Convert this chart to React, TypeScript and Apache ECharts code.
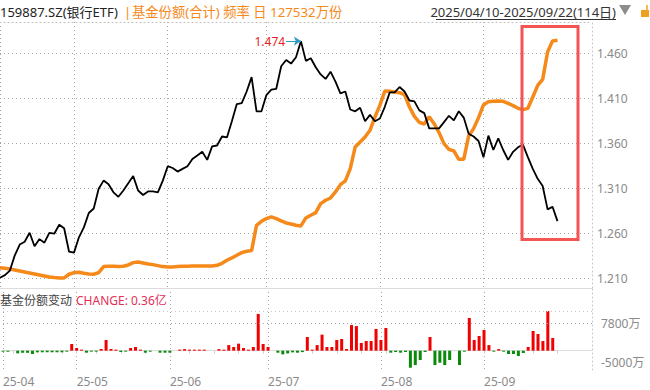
import React, { useEffect, useRef } from 'react';
import * as echarts from 'echarts';

// ---- data ----
const tradingDays: [string, number[]][] = [
  ['2025-04', [10, 11, 14, 15, 16, 17, 18, 21, 22, 23, 24, 25, 28, 29, 30]],
  ['2025-05', [6, 7, 8, 9, 12, 13, 14, 15, 16, 19, 20, 21, 22, 23, 26, 27, 28, 29, 30]],
  ['2025-06', [3, 4, 5, 6, 9, 10, 11, 12, 13, 16, 17, 18, 19, 20, 23, 24, 25, 26, 27, 30]],
  ['2025-07', [1, 2, 3, 4, 7, 8, 9, 10, 11, 14, 15, 16, 17, 18, 21, 22, 23, 24, 25, 28, 29, 30, 31]],
  ['2025-08', [1, 4, 5, 6, 7, 8, 11, 12, 13, 14, 15, 18, 19, 20, 21, 22, 25, 26, 27, 28, 29]],
  ['2025-09', [1, 2, 3, 4, 5, 8, 9, 10, 11, 12, 15, 16, 17, 18, 19, 22]],
];
const dates: string[] = tradingDays.flatMap(([m, ds]) => ds.map((d) => `${m}-${String(d).padStart(2, '0')}`));

// ETF price (right axis)
const price = [
  1.211, 1.214, 1.219, 1.236, 1.248, 1.251, 1.261, 1.246, 1.254, 1.250,
  1.261, 1.260, 1.270, 1.266, 1.240, 1.239, 1.256, 1.267, 1.283, 1.288,
  1.310, 1.319, 1.315, 1.306, 1.301, 1.308, 1.316, 1.324, 1.308, 1.303,
  1.307, 1.307, 1.306, 1.319, 1.335, 1.333, 1.329, 1.332, 1.335, 1.343,
  1.347, 1.351, 1.342, 1.357, 1.358, 1.368, 1.367, 1.385, 1.404, 1.405,
  1.418, 1.434, 1.396, 1.396, 1.414, 1.420, 1.421, 1.446, 1.453, 1.449,
  1.456, 1.474, 1.452, 1.455, 1.445, 1.437, 1.432, 1.440, 1.429, 1.416,
  1.418, 1.398, 1.396, 1.400, 1.385, 1.392, 1.385, 1.388, 1.401, 1.417,
  1.417, 1.423, 1.418, 1.408, 1.407, 1.397, 1.394, 1.377, 1.377, 1.377,
  1.384, 1.391, 1.386, 1.396, 1.389, 1.371, 1.368, 1.363, 1.345, 1.369,
  1.353, 1.366, 1.353, 1.342, 1.351, 1.356, 1.359, 1.345, 1.332, 1.321,
  1.313, 1.287, 1.290, 1.274,
];

// fund shares (万份, hidden axis)
const shares = [
  33893, 33619, 33344, 32932, 32520, 32108, 31697, 31285, 30873, 30461,
  30049, 29774, 29637, 29637, 31147, 31834, 31971, 31559, 31285, 31147,
  31834, 34305, 34443, 34443, 34305, 34443, 34992, 35953, 36227, 35816,
  35404, 35129, 34717, 34305, 34168, 34168, 34305, 34443, 34443, 34580,
  34580, 34580, 34580, 34580, 34854, 35678, 36914, 37875, 38973, 40072,
  40621, 40896, 51330, 52978, 54076, 54763, 54076, 53115, 52292, 51880,
  51330, 51056, 54351, 55449, 56548, 60255, 61628, 62589, 65060, 68081,
  69591, 74671, 83596, 85655, 87715, 90461, 95953, 100758, 106662, 106525,
  106250, 105976, 105152, 100072, 96228, 93756, 93070, 96090, 93207, 89500,
  84969, 82635, 81948, 78516, 78516, 88127, 91147, 95678, 100896, 102269,
  102406, 102543, 102406, 101582, 100621, 99523, 98974, 99523, 104191, 108996,
  111468, 122726, 127300, 127532,
];

// daily change of fund shares (万份)
const shareChange: (number | null)[] = [
  -280, -280, 0, -760, -600, -600, -950, -450, -450, -450,
  -450, -450, -450, -280, 1900, 760, 300, -570, -280, -280,
  480, 3040, 480, 300, -380, -280, 760, 1050, 300, -570,
  -280, 0, -570, -570, -570, 0, 300, 450, 300, 300,
  300, 300, 0, 0, 450, 300, 1600, 1050, 2000, 760,
  300, 1050, 10460, 1900, 1050, 0, -570, -1050, -760, -480,
  -570, -400, 3900, 300, 1600, 4560, 1050, 1050, 3040, 3330,
  480, 7300, 7000, 2200, 2750, 2750, 6200, 3040, 6460, -570,
  -380, -570, -380, -4850, -4090, -2660, -380, 3900, -4090, -3420,
  -4090, -2660, 0, -4090, -280, 9300, 3040, 4180, 5900, 1600,
  -280, 450, -280, -950, -950, -1520, -660, 1050, 5600, 4750,
  2750, 11300, 3600, null,
];

const priceTickMin = 1.21;
const priceTickMax = 1.46;
const priceTickStep = 0.05;
const changeTicks = [7800, -5000];
const padCount = 7;

// ---- styles ----
const FONT = '"Noto Sans", "Noto Sans CJK SC", sans-serif';
const ORANGE = '#f5891a';
const RED = '#f00000';
const GREEN = '#0a8a0a';
const GRID_DOT = '#a8a8a8';
const AXIS_TXT = '#8a8a8a';

export default function App() {
  const ref = useRef<HTMLDivElement>(null);

  useEffect(() => {
    if (!ref.current) return;
    const chart = echarts.init(ref.current, undefined, { renderer: 'svg' });

    const cats = [...dates, ...Array.from({ length: padCount }, (_, k) => `pad${k}`)];
    const isMonthStart = (i: number) =>
      i < dates.length && (i === 0 || dates[i].slice(5, 7) !== dates[i - 1].slice(5, 7));
    const isWeekStart = (i: number) => {
      if (i <= 0 || i >= dates.length) return false;
      const d = new Date(dates[i] + 'T00:00:00Z');
      const p = new Date(dates[i - 1] + 'T00:00:00Z');
      return d.getUTCDay() <= p.getUTCDay() || (d.getTime() - p.getTime()) / 864e5 >= 7;
    };

    const last = dates.length - 1;
    const peak = Math.max(...price);
    const peakIdx = price.indexOf(peak);
    const lastChange = [...shareChange].reverse().find((v) => v != null) as number;
    const rangeText = `${dates[0].replace(/-/g, '/')}-${dates[last].replace(/-/g, '/')}(${dates.length}日)`;

    const gridPos = { left: -1, right: 58 };
    const dotted = (color: string) => ({ color, width: 1, type: [1, 3] as any });

    const option: any = {
      animation: false,
      backgroundColor: '#fff',
      textStyle: { fontFamily: FONT },
      grid: [
        { ...gridPos, top: 22, height: 266 },
        { ...gridPos, top: 53.7, height: 225 },
        { ...gridPos, top: 288, height: 82 },
      ],
      xAxis: [
        {
          gridIndex: 0, type: 'category', data: cats, boundaryGap: false, position: 'bottom',
          axisLine: { show: true, lineStyle: { color: '#dcdcdc', width: 1 } },
          axisTick: { show: false }, axisLabel: { show: false },
          splitLine: { show: true, interval: (i: number) => isMonthStart(i), lineStyle: dotted(GRID_DOT) },
        },
        {
          gridIndex: 0, type: 'category', data: cats, boundaryGap: false, position: 'top',
          axisLine: { show: true, lineStyle: dotted('#bdbdbd') },
          axisTick: { show: false }, axisLabel: { show: false }, splitLine: { show: false },
        },
        { gridIndex: 1, type: 'category', data: cats, boundaryGap: false, show: false },
        {
          gridIndex: 2, type: 'category', data: cats, boundaryGap: false, position: 'bottom',
          axisLine: { show: true, lineStyle: { color: '#dcdcdc', width: 1 } },
          axisTick: { show: true, interval: (i: number) => isWeekStart(i), length: 3, lineStyle: { color: '#cfcfcf' } },
          axisLabel: {
            show: true, interval: (i: number) => isMonthStart(i),
            formatter: (v: string) => v.slice(2, 7), align: 'left', margin: 5,
            color: AXIS_TXT, fontSize: 12, fontFamily: FONT,
          },
          splitLine: { show: true, interval: (i: number) => isMonthStart(i), lineStyle: dotted(GRID_DOT) },
        },
      ],
      yAxis: [
        {
          gridIndex: 0, type: 'value', min: 1.19967, max: 1.49522, position: 'right',
          axisLine: { show: true, lineStyle: dotted('#c4c4c4') },
          axisTick: { show: false }, axisLabel: { show: false }, splitLine: { show: false },
        },
        { gridIndex: 0, type: 'value', min: 25492, max: 135085, show: false, splitLine: { show: false } },
        {
          gridIndex: 1, type: 'value', min: priceTickMin, max: priceTickMax, interval: priceTickStep, position: 'right',
          axisLine: { show: false }, axisTick: { show: false },
          axisLabel: { show: true, margin: 5, color: AXIS_TXT, fontSize: 12, fontFamily: FONT, formatter: (v: number) => v.toFixed(3) },
          splitLine: { show: true, lineStyle: dotted(GRID_DOT) },
        },
        {
          gridIndex: 2, type: 'value', min: -5500, max: 17850, position: 'right',
          axisLine: { show: true, lineStyle: dotted('#c4c4c4') },
          axisTick: { show: false }, axisLabel: { show: false }, splitLine: { show: false },
        },
      ],
      series: [
        {
          type: 'line', name: '基金份额', xAxisIndex: 0, yAxisIndex: 1, data: shares,
          symbol: 'none', z: 2, lineStyle: { color: ORANGE, width: 3.5 }, itemStyle: { color: ORANGE },
        },
        {
          type: 'line', name: '159887.SZ', xAxisIndex: 0, yAxisIndex: 0, data: price,
          symbol: 'none', z: 3, lineStyle: { color: '#000', width: 1.8 }, itemStyle: { color: '#000' },
          markLine: {
            silent: true, symbol: ['none', 'arrow'], symbolSize: 7, animation: false,
            lineStyle: { color: '#2f9cc4', width: 1, type: 'solid' },
            label: {
              show: true, position: 'start', distance: 1, formatter: () => peak.toFixed(3),
              color: '#e41e26', fontSize: 12, fontFamily: FONT,
            },
            data: [[{ coord: [dates[peakIdx - 3], peak] }, { coord: [dates[peakIdx], peak] }]],
          },
        },
        {
          type: 'bar', name: '基金份额变动', xAxisIndex: 3, yAxisIndex: 3, barWidth: 3,
          data: shareChange.map((v) => (v == null ? null : { value: v, itemStyle: { color: v >= 0 ? RED : GREEN } })),
          markLine: {
            silent: true, symbol: 'none', animation: false,
            data: [
              { type: 'max', lineStyle: dotted('#c8c8c8'), label: { show: false } },
              ...changeTicks.map((t) => ({
                yAxis: t,
                lineStyle: t > 0 ? dotted(GRID_DOT) : { color: 'rgba(255,255,255,0)', width: 1, type: 'solid' },
                label: {
                  show: true, position: 'end', distance: 9, formatter: `${t}万`,
                  color: AXIS_TXT, fontSize: 12, fontFamily: FONT, opacity: 1,
                  verticalAlign: t > 0 ? 'middle' : 'bottom',
                },
              })),
            ],
          },
        },
      ],
      graphic: [
        { type: 'text', z: 10, style: { text: '159887.SZ(银行ETF)', x: 0, y: 12, fill: '#222', fontSize: 13, fontFamily: FONT, verticalAlign: 'middle' } },
        { type: 'text', z: 10, style: { text: '|', x: 124, y: 12, fill: ORANGE, fontSize: 13, fontFamily: FONT, verticalAlign: 'middle' } },
        {
          type: 'text', z: 10,
          style: { text: `基金份额(合计) 频率 日 ${shares[last]}万份`, x: 132, y: 12, fill: ORANGE, fontSize: 13.3, fontFamily: FONT, verticalAlign: 'middle' },
        },
        { type: 'text', z: 10, style: { text: rangeText, x: 616, y: 12, align: 'right', fill: '#333', fontSize: 13, fontFamily: FONT, verticalAlign: 'middle' } },
        { type: 'line', z: 10, shape: { x1: 436, y1: 19.5, x2: 616, y2: 19.5 }, style: { stroke: '#333', lineWidth: 1 } },
        { type: 'polygon', z: 10, shape: { points: [[619, 5], [631, 5], [625, 15]] }, style: { fill: '#8c8c8c' } },
        { type: 'rect', z: 10, shape: { x: 641, y: 10, width: 8, height: 7 }, style: { fill: '#f0a020' } },
        { type: 'line', z: 10, shape: { x1: 647, y1: 10, x2: 647, y2: 5 }, style: { stroke: '#f0a020', lineWidth: 1.5 } },
        { type: 'text', z: 10, style: { text: '基金份额变动', x: 0, y: 300, fill: '#444', fontSize: 12, fontFamily: FONT, verticalAlign: 'middle' } },
        {
          type: 'text', z: 10,
          style: { text: `CHANGE: ${(lastChange / 10000).toFixed(2)}亿`, x: 76, y: 300, fill: '#e52e55', fontSize: 12, fontFamily: FONT, verticalAlign: 'middle' },
        },
        { type: 'rect', z: 20, shape: { x: 522, y: 26.5, width: 56, height: 213 }, style: { fill: 'none', stroke: '#f35454', lineWidth: 3 } },
      ],
    };

    chart.setOption(option);
    return () => chart.dispose();
  }, []);

  return (
    <div
      ref={ref}
      style={{ position: 'fixed', left: 0, top: 0, width: 650, height: 390, background: '#fff' }}
    />
  );
}
